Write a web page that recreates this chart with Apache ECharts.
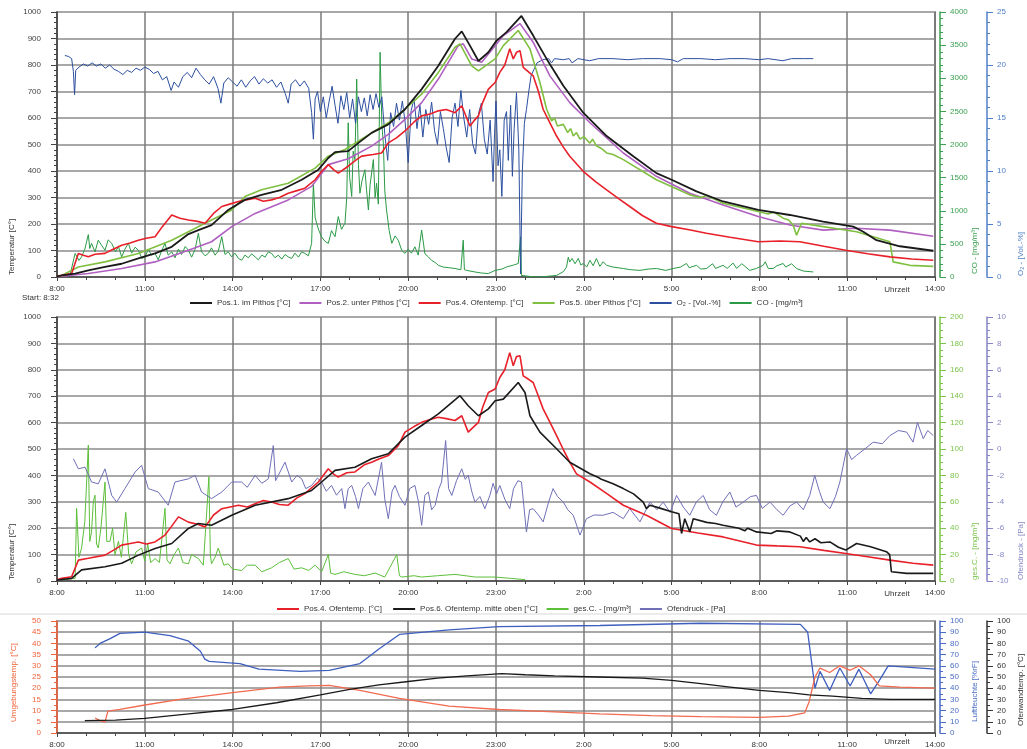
<!DOCTYPE html>
<html><head><meta charset="utf-8">
<script src="https://cdn.jsdelivr.net/npm/echarts@6/dist/echarts.min.js"></script>
<style>html,body{margin:0;padding:0;background:#fff}#c{width:1027px;height:749px}</style>
</head><body><div id="c"></div>
<script>
// time axis: hours after 8:00 (0..30)
const hourLabels = ['8:00','11:00','14:00','17:00','20:00','23:00','2:00','5:00','8:00','11:00','14:00'];

// ---- top panel ----
const pos1Top = [[0,2],[0.16,6],[0.62,13],[1.07,25],[1.64,38],[2.21,50],[2.78,70],[3.35,89],[3.92,114],[4.49,162],[4.83,177],[5.28,196],[5.85,253],[6.42,291],[6.99,310],[7.68,329],[8.36,367],[8.93,405],[9.27,449],[9.50,471],[9.95,475],[10.30,506],[10.75,544],[11.32,576],[11.89,633],[12.46,709],[13.03,797],[13.60,899],[13.83,927],[14.11,873],[14.40,815],[14.74,848],[15.02,892],[15.36,924],[15.87,985],[16.27,911],[16.73,823],[17.30,722],[17.98,620],[18.78,532],[19.69,456],[20.48,392],[21.00,367],[21.85,323],[22.76,285],[23.96,253],[25.04,234],[26.18,209],[27.21,190],[27.55,171],[28.00,139],[28.80,116],[29.94,99]];
const pos2Top = [[0,2],[0.16,3],[1.07,13],[2.21,32],[3.35,57],[4.49,101],[5.28,133],[5.97,190],[6.77,240],[7.90,291],[8.70,342],[9.27,424],[9.95,446],[10.75,494],[11.32,538],[11.89,595],[12.46,658],[13.03,747],[13.71,873],[13.88,880],[14.17,823],[14.51,810],[14.97,873],[15.25,911],[15.82,956],[16.27,886],[16.84,759],[17.52,658],[18.21,582],[19.35,468],[20.48,380],[21.62,316],[22.76,272],[23.96,228],[25.04,196],[26.18,177],[27.32,184],[28.46,177],[29.94,154]];
const pos4Top = [[0,2],[0.16,6],[0.50,13],[0.73,89],[0.9,82],[1.07,76],[1.3,86],[1.64,89],[1.9,104],[2.21,120],[2.5,128],[2.78,139],[3.05,146],[3.35,152],[3.6,190],[3.92,234],[4.2,222],[4.49,215],[4.8,210],[5.06,203],[5.35,240],[5.63,266],[5.9,275],[6.20,285],[6.5,292],[6.77,297],[7.05,286],[7.33,291],[7.6,300],[7.90,316],[8.2,326],[8.47,335],[8.82,367],[9.05,400],[9.27,424],[9.45,405],[9.61,392],[9.95,418],[10.2,440],[10.41,456],[10.8,462],[11.09,468],[11.32,506],[11.6,525],[11.89,551],[12.2,585],[12.46,608],[12.75,615],[13.03,627],[13.3,632],[13.60,620],[13.83,646],[14.0,600],[14.11,570],[14.25,590],[14.40,608],[14.55,660],[14.74,709],[14.97,734],[15.13,772],[15.3,800],[15.47,861],[15.59,823],[15.70,848],[15.82,854],[15.93,791],[16.1,775],[16.27,759],[16.45,700],[16.61,633],[16.85,580],[17.07,532],[17.3,490],[17.52,456],[17.98,399],[18.4,360],[18.78,329],[19.2,295],[19.57,266],[20.0,232],[20.48,203],[21.00,190],[21.6,178],[22.19,165],[23.0,150],[23.96,133],[24.7,136],[25.38,133],[26.2,116],[26.95,101],[27.7,88],[28.46,76],[29.2,68],[29.94,63]];
const pos5Top = [[0,2],[0.16,6],[0.73,38],[1.64,57],[2.78,89],[3.92,139],[5.06,203],[5.97,253],[6.42,304],[6.99,329],[7.90,354],[8.82,411],[9.27,456],[9.84,481],[10.75,544],[11.32,582],[11.89,633],[12.46,690],[13.03,772],[13.60,867],[13.77,880],[14.17,797],[14.40,778],[14.97,823],[15.25,873],[15.76,930],[16.16,861],[16.50,734],[16.73,633],[16.90,589],[17.0,600],[17.1,570],[17.30,576],[17.45,545],[17.55,560],[17.64,532],[17.75,545],[17.87,520],[18.0,530],[18.21,505],[18.3,520],[18.43,495],[18.6,485],[18.78,468],[19.0,462],[19.35,443],[20.48,367],[21.62,310],[22.0,300],[22.2,308],[22.76,278],[23.96,247],[24.3,238],[24.5,245],[24.81,222],[25.0,215],[25.15,196],[25.27,158],[25.44,203],[26.18,190],[27.32,171],[28.46,133],[28.57,57],[29.14,44],[29.94,40]];
const o2Top = [[0.27,20.9],[0.40,20.8],[0.50,20.6],[0.56,19.4],[0.60,17.2],[0.64,19.5],[0.75,19.8],[0.9,20.1],[1.05,19.9],[1.2,20.2],[1.35,19.9],[1.5,20.1],[1.65,19.7],[1.8,20.0],[1.95,19.6],[2.1,19.4],[2.25,19.1],[2.4,19.5],[2.55,19.3],[2.7,19.7],[2.85,19.5],[3.0,19.8],[3.15,19.6],[3.3,19.2],[3.45,19.4],[3.6,18.6],[3.75,18.9],[3.9,17.6],[4.0,18.4],[4.15,17.9],[4.3,18.9],[4.45,19.3],[4.6,18.8],[4.75,19.7],[4.9,19.1],[5.05,18.6],[5.2,18.2],[5.35,18.9],[5.5,17.8],[5.6,16.4],[5.7,18.3],[5.85,18.8],[6.0,18.4],[6.15,18.0],[6.3,18.6],[6.45,17.9],[6.6,18.5],[6.75,18.9],[6.9,18.2],[7.05,18.7],[7.2,18.3],[7.35,18.6],[7.5,17.9],[7.65,18.4],[7.8,17.3],[7.9,16.4],[8.0,18.2],[8.15,18.6],[8.3,18.0],[8.45,18.5],[8.6,17.8],[8.7,15.5],[8.76,13.0],[8.82,16.8],[8.9,17.5],[9.0,15.6],[9.1,17.0],[9.2,15.0],[9.3,16.6],[9.4,18.0],[9.5,16.2],[9.6,14.5],[9.7,17.1],[9.8,15.8],[9.9,17.4],[10.0,15.0],[10.1,16.8],[10.2,14.5],[10.3,17.0],[10.4,15.6],[10.5,16.9],[10.6,15.2],[10.7,17.2],[10.8,15.8],[10.9,17.3],[11.0,16.0],[11.1,17.0],[11.2,13.5],[11.3,11.0],[11.4,15.5],[11.5,14.2],[11.6,16.4],[11.7,14.8],[11.8,16.6],[11.9,14.5],[12.0,10.8],[12.1,15.7],[12.2,16.8],[12.3,14.0],[12.4,16.2],[12.5,13.2],[12.6,15.8],[12.7,14.4],[12.8,16.5],[12.9,13.8],[13.0,12.5],[13.1,15.6],[13.2,14.0],[13.3,12.2],[13.4,10.8],[13.5,15.0],[13.6,16.4],[13.7,14.2],[13.8,17.6],[13.9,15.0],[14.0,13.2],[14.1,15.8],[14.2,12.6],[14.3,11.6],[14.4,15.4],[14.5,16.4],[14.6,13.0],[14.7,11.6],[14.8,14.8],[14.9,9.0],[14.95,13.5],[15.0,16.6],[15.07,10.5],[15.13,12.0],[15.2,7.6],[15.28,14.8],[15.36,15.6],[15.42,11.0],[15.5,16.2],[15.56,9.5],[15.62,14.0],[15.7,17.4],[15.78,12.0],[15.84,0.3],[15.9,10.0],[15.97,14.5],[16.04,15.8],[16.12,17.5],[16.2,19.0],[16.3,19.6],[16.4,20.2],[16.6,20.5],[16.8,20.6],[16.9,20.2],[17.0,20.6],[17.3,20.5],[17.5,20.6],[17.6,20.2],[17.8,20.6],[18.2,20.4],[18.5,20.6],[19.0,20.6],[19.5,20.5],[20.0,20.6],[20.6,20.6],[21.0,20.5],[21.2,20.3],[21.4,20.6],[22.0,20.6],[22.5,20.5],[23.0,20.6],[23.5,20.6],[24.0,20.5],[24.3,20.6],[24.8,20.4],[25.1,20.6],[25.5,20.6],[25.84,20.6]];
const coTop = [[0.16,25],[0.45,40],[0.62,356],[0.75,250],[0.84,304],[0.95,420],[1.07,640],[1.12,430],[1.18,508],[1.3,380],[1.41,556],[1.52,480],[1.64,404],[1.75,560],[1.87,508],[2.0,380],[2.1,460],[2.21,304],[2.32,420],[2.44,508],[2.55,360],[2.67,450],[2.78,404],[2.9,280],[3.01,304],[3.12,420],[3.23,330],[3.35,356],[3.46,260],[3.58,400],[3.69,508],[3.8,330],[3.92,380],[4.03,290],[4.15,420],[4.26,340],[4.38,460],[4.49,404],[4.6,300],[4.72,420],[4.83,660],[4.94,380],[5.06,320],[5.17,356],[5.28,440],[5.4,330],[5.51,390],[5.63,608],[5.74,340],[5.85,380],[5.97,304],[6.08,360],[6.2,280],[6.31,252],[6.42,330],[6.54,290],[6.65,350],[6.77,304],[6.88,260],[7.0,330],[7.11,300],[7.22,380],[7.33,356],[7.45,290],[7.56,330],[7.68,270],[7.79,340],[7.9,304],[8.02,280],[8.13,360],[8.25,300],[8.36,380],[8.47,356],[8.59,320],[8.7,508],[8.76,1416],[8.82,900],[8.87,812],[8.95,700],[9.04,608],[9.15,540],[9.27,508],[9.38,700],[9.5,608],[9.61,912],[9.72,720],[9.84,812],[9.9,1200],[9.95,2328],[10.0,1500],[10.07,1216],[10.12,1900],[10.18,1772],[10.24,2988],[10.3,1700],[10.35,1264],[10.42,1450],[10.52,1620],[10.58,1300],[10.64,1012],[10.7,1400],[10.81,1772],[10.87,1200],[10.92,1416],[10.98,1100],[11.04,3392],[11.1,2300],[11.15,2024],[11.2,1300],[11.26,1012],[11.35,700],[11.44,508],[11.55,620],[11.66,556],[11.78,400],[11.89,356],[12.0,420],[12.11,360],[12.23,456],[12.34,330],[12.46,708],[12.57,350],[12.69,304],[12.8,250],[12.92,220],[13.03,176],[13.2,150],[13.4,140],[13.6,128],[13.8,110],[13.88,556],[13.92,110],[14.0,100],[14.28,76],[14.5,60],[14.74,52],[14.97,100],[15.2,120],[15.36,152],[15.6,180],[15.76,204],[15.84,608],[15.87,24],[16.2,6],[16.5,0],[17.07,24],[17.3,80],[17.41,152],[17.47,300],[17.52,228],[17.6,280],[17.7,200],[17.81,280],[17.9,180],[17.98,204],[18.1,150],[18.21,252],[18.32,170],[18.43,280],[18.55,160],[18.66,230],[18.78,176],[19.0,150],[19.35,128],[19.6,110],[19.92,100],[20.2,120],[20.48,128],[20.8,100],[21.05,128],[21.3,150],[21.51,204],[21.6,140],[21.85,176],[22.0,120],[22.19,128],[22.4,200],[22.5,130],[22.76,176],[22.9,130],[23.1,210],[23.22,130],[23.4,200],[23.67,100],[23.9,130],[24.13,176],[24.2,230],[24.3,130],[24.47,128],[24.6,170],[24.81,204],[24.9,150],[25.1,200],[25.27,128],[25.5,90],[25.84,76]];

// ---- middle panel ----
const pos4Mid = [[0,5],[0.16,10],[0.50,16],[0.73,79],[1.07,86],[1.64,98],[1.95,118],[2.21,136],[2.5,142],[2.78,148],[3.05,140],[3.35,148],[3.69,174],[3.9,205],[4.15,243],[4.49,223],[4.8,215],[5.06,205],[5.35,250],[5.63,274],[6.20,287],[6.5,280],[6.77,293],[7.05,305],[7.33,299],[7.6,290],[7.90,287],[8.2,315],[8.47,331],[8.93,375],[9.27,425],[9.45,405],[9.61,394],[9.9,410],[10.18,413],[10.5,440],[10.75,450],[11.0,462],[11.32,475],[11.66,513],[11.89,564],[12.2,585],[12.46,601],[12.75,612],[13.03,620],[13.3,615],[13.60,608],[13.83,626],[14.05,564],[14.2,580],[14.40,601],[14.55,660],[14.74,714],[14.97,727],[15.13,771],[15.3,800],[15.47,865],[15.59,815],[15.70,850],[15.82,853],[15.93,777],[16.1,765],[16.27,752],[16.45,700],[16.61,652],[16.85,600],[17.07,551],[17.3,498],[17.52,450],[17.75,406],[18.21,375],[18.8,330],[19.35,287],[20.14,249],[21.00,199],[21.9,182],[22.76,167],[23.90,136],[24.6,133],[25.38,130],[26.2,116],[26.95,104],[27.7,92],[28.46,79],[29.25,67],[29.94,60]];
const pos6Mid = [[0,4],[0.50,10],[0.84,42],[1.64,54],[2.21,67],[2.78,98],[3.35,123],[3.92,142],[4.49,199],[4.83,218],[5.28,211],[5.97,249],[6.77,287],[7.90,312],[8.70,343],[9.04,375],[9.50,419],[10.18,431],[10.75,463],[11.32,482],[11.89,545],[12.46,589],[13.03,633],[13.77,702],[14.05,664],[14.40,626],[14.74,652],[14.97,683],[15.25,689],[15.76,752],[15.99,714],[16.16,626],[16.50,564],[17.07,501],[17.52,450],[18.21,406],[18.5,392],[18.6,385],[19.0,368],[19.35,350],[19.7,330],[20.03,299],[20.14,274],[20.26,287],[20.6,276],[21.00,262],[21.25,255],[21.34,180],[21.45,236],[21.62,186],[21.74,236],[22.2,222],[22.5,218],[22.76,211],[23.3,200],[23.5,190],[23.6,200],[23.90,186],[24.4,180],[24.6,190],[25.04,186],[25.4,170],[25.5,150],[25.6,165],[25.72,148],[25.9,160],[26.1,145],[26.41,148],[26.7,128],[26.95,117],[27.32,142],[27.8,130],[28.34,111],[28.45,100],[28.51,35],[29.03,29],[29.94,29]];
const gesCMid = [[0.16,1],[0.62,2],[0.67,55],[0.75,18],[0.84,25],[0.95,45],[1.07,103],[1.12,30],[1.18,37],[1.24,60],[1.30,65],[1.35,28],[1.41,25],[1.5,40],[1.64,75],[1.7,30],[1.81,30],[1.9,40],[1.98,20],[2.1,30],[2.2,18],[2.35,52],[2.45,20],[2.55,13],[2.7,22],[2.89,25],[3.0,15],[3.1,28],[3.2,14],[3.35,17],[3.5,14],[3.69,55],[3.76,16],[3.86,13],[4.0,20],[4.15,25],[4.3,14],[4.49,13],[4.6,20],[4.83,17],[5.0,12],[5.19,79],[5.24,20],[5.28,13],[5.4,18],[5.51,25],[5.7,12],[5.85,13],[6.0,9],[6.31,8],[6.5,12],[6.77,12],[7.0,7],[7.33,10],[7.6,14],[7.90,17],[8.1,9],[8.36,10],[8.6,8],[8.82,12],[9.04,7],[9.27,20],[9.35,6],[9.50,5],[9.8,7],[10.18,5],[10.5,4],[10.87,6],[11.2,3],[11.61,20],[11.7,4],[11.78,3],[12.2,4],[12.46,3],[13.0,4],[13.60,5],[14.3,3],[14.97,3],[15.5,2],[16.0,1]];
const druckMid = [[0.56,-0.74],[0.73,-1.5],[0.96,-1.38],[1.18,-2.5],[1.41,-2.64],[1.64,-1.5],[1.87,-3.52],[2.04,-4.02],[2.32,-3.0],[2.67,-1.74],[2.89,-1.24],[3.12,-3.0],[3.46,-3.26],[3.80,-4.26],[4.03,-2.5],[4.49,-2.26],[4.72,-2.0],[4.94,-3.26],[5.28,-3.76],[5.63,-3.26],[5.97,-2.5],[6.31,-2.5],[6.5,-2.9],[6.77,-2.0],[7.0,-2.6],[7.22,-2.26],[7.39,0.26],[7.47,-2.4],[7.56,-2.0],[7.79,-1.0],[8.02,-2.5],[8.2,-2.0],[8.36,-2.26],[8.5,-3.0],[8.70,-2.76],[8.9,-2.2],[9.04,-2.5],[9.2,-3.2],[9.38,-2.76],[9.55,-3.5],[9.73,-3.0],[9.84,-4.52],[9.95,-3.0],[10.07,-2.76],[10.2,-3.6],[10.30,-4.52],[10.45,-3.0],[10.64,-2.5],[10.87,-3.52],[11.09,-1.0],[11.2,-3.8],[11.32,-5.28],[11.45,-3.2],[11.55,-2.76],[11.7,-3.6],[11.89,-4.26],[12.05,-3.0],[12.23,-2.76],[12.35,-4.0],[12.46,-5.78],[12.57,-3.5],[12.69,-3.26],[12.8,-4.6],[12.92,-4.26],[13.05,-3.0],[13.14,-2.5],[13.28,0.64],[13.38,-3.0],[13.49,-3.52],[13.65,-2.4],[13.83,-1.5],[13.95,-2.3],[14.05,-2.0],[14.17,-3.2],[14.28,-4.02],[14.45,-3.6],[14.62,-4.52],[14.79,-3.52],[14.9,-2.6],[15.02,-3.4],[15.13,-2.76],[15.3,-3.8],[15.47,-4.52],[15.6,-3.0],[15.75,-2.4],[15.87,-2.5],[16.04,-6.28],[16.15,-4.6],[16.27,-4.52],[16.45,-5.0],[16.61,-5.52],[16.8,-4.0],[16.95,-3.0],[17.1,-3.6],[17.30,-4.02],[17.45,-4.6],[17.64,-5.02],[17.87,-6.52],[18.09,-5.28],[18.35,-5.0],[18.66,-5.02],[19.0,-4.8],[19.35,-5.28],[19.57,-4.52],[19.92,-5.52],[20.26,-4.02],[20.5,-4.6],[20.71,-4.02],[20.95,-4.8],[21.17,-3.52],[21.4,-4.4],[21.62,-5.02],[21.85,-4.0],[22.08,-3.52],[22.3,-4.6],[22.53,-5.02],[22.75,-4.0],[22.99,-3.26],[23.2,-4.4],[23.45,-4.02],[23.7,-3.6],[23.90,-3.52],[24.1,-4.5],[24.36,-4.02],[24.6,-4.6],[24.81,-5.02],[25.05,-4.3],[25.27,-4.02],[25.5,-4.6],[25.72,-3.52],[25.89,-2.0],[26.05,-3.2],[26.18,-4.02],[26.41,-4.52],[26.6,-3.6],[26.75,-2.5],[26.98,0.02],[27.15,-0.8],[27.32,-0.48],[27.6,0.0],[27.89,0.52],[28.2,0.4],[28.46,1.02],[28.75,1.4],[29.03,1.28],[29.25,0.52],[29.4,2.0],[29.60,0.78],[29.75,1.4],[29.94,1.02]];

// ---- bottom panel ----
const umgebBot = [[1.30,6.7],[1.47,5.5],[1.64,5.0],[1.74,9.8],[2.15,10.5],[3.0,12.5],[4.2,15],[6.0,18],[7.6,20.5],[8.6,21],[9.3,21.3],[10.35,19],[11.7,15.5],[13.4,12],[15.1,10.5],[16.8,9.5],[18.55,8.5],[20.3,7.8],[22.0,7.3],[24.0,7],[25.0,7.5],[25.55,9],[25.7,14],[25.9,25],[26.07,29],[26.4,27],[26.75,30],[27.1,28],[27.4,30],[27.8,26],[28.1,21],[28.8,20.5],[30,20]];
const feuchteBot = [[1.3,76],[1.47,80],[1.8,84],[2.15,89],[3.0,90],[3.86,87],[4.5,82],[4.9,73],[5.05,66],[5.2,64],[6.25,62],[6.9,57],[8.3,55],[9.3,56],[10.35,62],[11.0,75],[11.7,88],[13.4,92],[15.1,95],[18.55,96],[22.0,98],[25.4,97],[25.65,90],[25.9,40],[26.07,55],[26.4,38],[26.75,58],[27.1,42],[27.4,57],[27.8,35],[28.1,47],[28.4,60],[30,57]];
const wandBot = [[0.95,11],[2.0,11.5],[3.0,13],[4.5,17],[6.0,21],[7.5,27],[9.0,34],[10.0,39],[11.0,43],[12.0,46],[13.0,49],[14.0,51],[15.2,53],[16.0,52],[17.0,51],[18.5,50],[20.0,49],[21.0,47],[22.0,44],[23.0,41],[24.0,38],[25.0,36],[25.7,34],[26.5,33],[27.5,31],[28.5,30],[30,30]];

const FONT = 'Liberation Sans';
const C = {
  black:'#1a1a1a', purple:'#b060c0', red:'#e8202a', lgreen:'#80c040', blue:'#2c4fa0', cogreen:'#2a9a45',
  druck:'#7070b8', gesc:'#5cbf3a', umg:'#f26a4f', feu:'#3f5fbf'
};

function xAx(g){
  return {type:'value', gridIndex:g, min:0, max:30, interval:3,
    axisLine:{show:true, lineStyle:{color:'#444', width:1.5}},
    axisTick:{show:true, length:4, lineStyle:{color:'#444'}},
    minorTick:{show:true, splitNumber:3, length:3, lineStyle:{color:'#444'}},
    axisLabel:{fontFamily:FONT, fontSize:8, color:'#333', margin:8, formatter:v=>hourLabels[Math.round(v/3)]},
    splitLine:{show:true, lineStyle:{color:'#7a7a7a', width:1.5}}};
}
function yAx(g, min, max, interval, pos, offset, color, split, minorN){
  return {type:'value', gridIndex:g, min, max, interval, position:pos, offset,
    axisLine:{show:true, lineStyle:{color, width:1.5}},
    axisTick:{show:true, length:6, lineStyle:{color}},
    minorTick:{show:true, splitNumber:minorN, length:3, lineStyle:{color}},
    axisLabel:{fontFamily:FONT, fontSize:8, color, margin:10, formatter:v=>String(v)},
    splitLine:{show:split, lineStyle:{color:'#a8a8a8', width:2}}};
}
function ln(name, data, xi, yi, color, w){
  return {name, type:'line', data, xAxisIndex:xi, yAxisIndex:yi, showSymbol:false, symbol:'none',
    lineStyle:{color, width:w}, itemStyle:{color}, animation:false, silent:true};
}
function vtext(x, y, text, color){
  return {type:'text', x, y, rotation:Math.PI/2, style:{text, fill:color, font:'8px '+FONT, align:'left', verticalAlign:'middle'}};
}
function htext(x, y, text, color, align){
  return {type:'text', x, y, style:{text, fill:color||'#333', font:'8px '+FONT, align:align||'left', verticalAlign:'middle'}};
}

const option = {
  backgroundColor:'#fff',
  animation:false,
  grid:[
    {left:57, right:92, top:12, height:265, show:true, borderColor:'#555', borderWidth:1.5},
    {left:57, right:92, top:317, height:264, show:true, borderColor:'#555', borderWidth:1.5},
    {left:57, right:92, top:621, height:112, show:true, borderColor:'#555', borderWidth:1.5}
  ],
  xAxis:[xAx(0), xAx(1), xAx(2)],
  yAxis:[
    yAx(0, 0, 1000, 100, 'left', 6, '#444', true, 5),
    yAx(0, 0, 4000, 500, 'right', 5, '#3ba050', false, 5),
    yAx(0, 0, 25, 5, 'right', 52, '#4f7fc8', false, 5),
    yAx(1, 0, 1000, 100, 'left', 6, '#444', true, 5),
    yAx(1, 0, 200, 20, 'right', 5, '#7cc34c', false, 4),
    yAx(1, -10, 10, 2, 'right', 52, '#8585c5', false, 4),
    yAx(2, 0, 50, 5, 'left', 6, '#f0643c', true, 2),
    yAx(2, 0, 100, 10, 'right', 5, '#4a6cc4', false, 2),
    yAx(2, 0, 100, 10, 'right', 52, '#333', false, 2)
  ],
  legend:[
    {top:294, left:185, itemWidth:22, itemHeight:2, itemGap:9, icon:'rect',
     textStyle:{fontFamily:FONT, fontSize:8, color:'#333'},
     data:['Pos.1. im Pithos [°C]','Pos.2. unter Pithos [°C]','Pos.4. Ofentemp. [°C]','Pos.5. über Pithos [°C]','O₂ - [Vol.-%]','CO - [mg/m³]']},
    {top:600, left:272, itemWidth:22, itemHeight:2, itemGap:9, icon:'rect',
     textStyle:{fontFamily:FONT, fontSize:8, color:'#333'},
     data:['Pos.4. Ofentemp. [°C] ','Pos.6. Ofentemp. mitte oben [°C]','ges.C. - [mg/m³]','Ofendruck - [Pa]']}
  ],
  series:[
    ln('CO - [mg/m³]', coTop, 0, 1, C.cogreen, 1),
    ln('O₂ - [Vol.-%]', o2Top, 0, 2, C.blue, 1),
    ln('Pos.2. unter Pithos [°C]', pos2Top, 0, 0, C.purple, 1.6),
    ln('Pos.5. über Pithos [°C]', pos5Top, 0, 0, C.lgreen, 1.6),
    ln('Pos.4. Ofentemp. [°C]', pos4Top, 0, 0, C.red, 1.6),
    ln('Pos.1. im Pithos [°C]', pos1Top, 0, 0, C.black, 1.8),
    ln('ges.C. - [mg/m³]', gesCMid, 1, 4, C.gesc, 1),
    ln('Ofendruck - [Pa]', druckMid, 1, 5, C.druck, 1),
    ln('Pos.4. Ofentemp. [°C] ', pos4Mid, 1, 3, C.red, 1.6),
    ln('Pos.6. Ofentemp. mitte oben [°C]', pos6Mid, 1, 3, C.black, 1.6),
    ln('Luftfeuchte [%rF]', feuchteBot, 2, 7, C.feu, 1.3),
    ln('Umgebungstemp. [°C]', umgebBot, 2, 6, C.umg, 1.3),
    ln('Ofenwandtemp. [°C]', wandBot, 2, 8, C.black, 1.3)
  ],
  graphic:[
    vtext(12, 275, 'Temperatur [C°]', '#333'),
    vtext(975, 274, 'CO - [mg/m³]', '#3ba050'),
    vtext(1021, 276, 'O₂ - [Vol.-%]', '#4f7fc8'),
    vtext(12, 580, 'Temperatur [C°]', '#333'),
    vtext(975, 580, 'ges.C. - [mg/m³]', '#7cc34c'),
    vtext(1021, 580, 'Ofendruck - [Pa]', '#8585c5'),
    vtext(14, 722, 'Umgebungstemp. [°C]', '#f0643c'),
    vtext(975, 722, 'Luftfeuchte [%rF]', '#4a6cc4'),
    vtext(1021, 726, 'Ofenwandtemp. [°C]', '#333'),
    htext(22, 298, 'Start: 8:32'),
    htext(897, 290, 'Uhrzeit', '#333', 'center'),
    htext(897, 594, 'Uhrzeit', '#333', 'center'),
    htext(897, 742, 'Uhrzeit', '#333', 'center'),
    {type:'line', shape:{x1:0, y1:614, x2:1027, y2:614}, style:{stroke:'#d8d8d8', lineWidth:1}}
  ]
};
const chart = echarts.init(document.getElementById('c'), null, {renderer:'canvas'});
chart.setOption(option);
</script></body></html>
